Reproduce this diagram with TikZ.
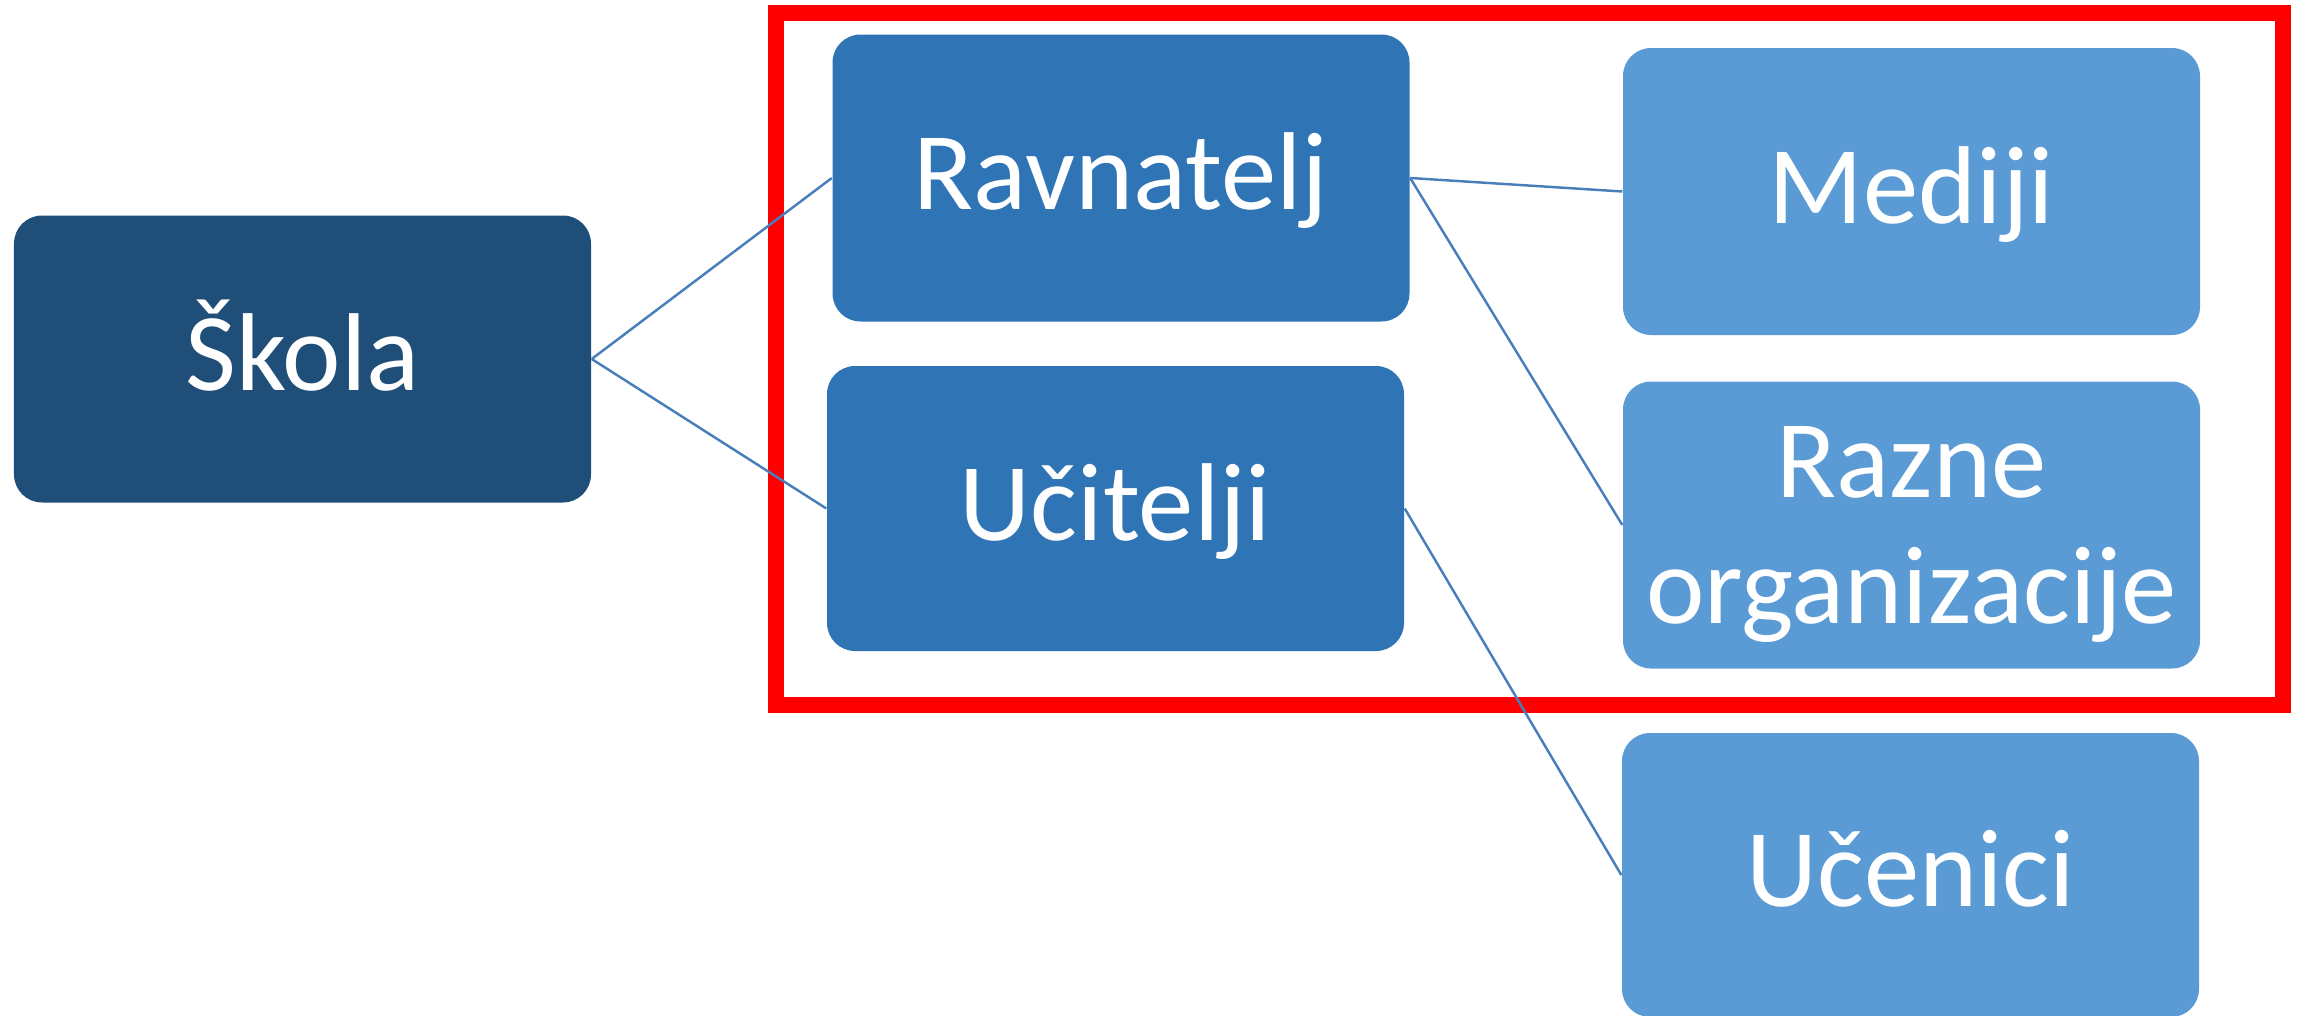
\documentclass[tikz,border=0pt]{standalone}
\usepackage{fontspec}
\setmainfont{Carlito}
\usetikzlibrary{calc}
\definecolor{SkolaClr}{RGB}{31,78,121}
\definecolor{UpravaClr}{RGB}{47,117,181}
\definecolor{OkolinaClr}{RGB}{91,155,213}
\definecolor{VezaClr}{RGB}{72,126,186}
\definecolor{OkvirClr}{RGB}{255,0,0}

\begin{document}
\begin{tikzpicture}[
  kutija/.style={rounded corners=.28cm,minimum width=5.77cm,minimum height=2.87cm,
    inner sep=0pt,text=white,font=\fontsize{31.5}{35.7}\selectfont,
    text height=20.3pt,text depth=2.2pt},
  veza/.style={line width=.7pt,color=VezaClr}]
\useasboundingbox (0,0) rectangle (23.03,10.15);

% Okvir oko uprave i suradnika.
\draw[OkvirClr,line width=.16cm] (7.76,10.02) rectangle (22.83,3.10);

% Kutije.
\node[kutija,fill=SkolaClr] (skola) at (3.025,6.56) {Škola};
\node[kutija,fill=UpravaClr] (ravnatelj) at (11.21,8.37) {Ravnatelj};
\node[kutija,fill=UpravaClr,minimum height=2.85cm] (ucitelji) at (11.155,5.065) {Učitelji};
\node[kutija,fill=OkolinaClr] (mediji) at (19.115,8.235) {Mediji};
\node[kutija,fill=OkolinaClr,align=center,text height={},text depth=0pt] (razne) at (19.115,4.90) {Razne\\organizacije};
\node[kutija,fill=OkolinaClr,minimum height=2.84cm] (ucenici) at (19.105,1.40) {Učenici};

% Veze.
\draw[veza] (skola.east) -- (ravnatelj.west);
\draw[veza] (skola.east) -- (ucitelji.west);
\draw[veza] (ravnatelj.east) -- (mediji.west);
\draw[veza] (ravnatelj.east) -- (razne.west);
\draw[veza] (ucitelji.east) -- (ucenici.west);

\end{tikzpicture}
\end{document}
